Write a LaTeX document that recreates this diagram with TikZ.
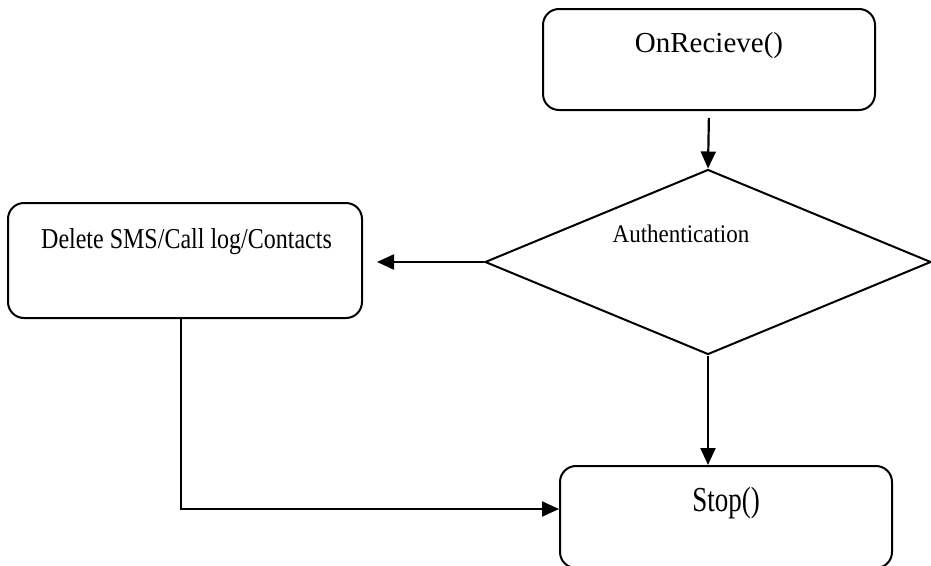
\documentclass[tikz,border=0pt]{standalone}
\usepackage{fontspec}
\setmainfont{Liberation Serif}
\usetikzlibrary{arrows.meta,shapes.geometric}
\begin{document}
\begin{tikzpicture}[x=1pt,y=-1pt,
  box/.style={draw,line width=2pt,rounded corners=16pt,inner sep=0pt},
  decision/.style={draw,line width=2pt,diamond,inner sep=0pt,aspect=2.4},
  conn/.style={line width=2.2pt,-{Triangle[length=17pt,width=15pt]}},
  lbl/.style={inner sep=0pt,anchor=base}]
\useasboundingbox (0,0) rectangle (931,565);
% shapes
\node[box,minimum width=332pt,minimum height=101pt] (recv) at (709,59.5) {};
\node[decision,minimum width=446pt,minimum height=185pt] (auth) at (708,262) {};
\node[box,minimum width=354pt,minimum height=115pt] (del) at (185,260.5) {};
\node[box,minimum width=332pt,minimum height=102pt] (stop) at (726,517) {};
% texts
\node[lbl,font=\fontsize{29}{29}\selectfont] (recvtxt) at (709,52) {OnRecieve()};
\node[lbl,font=\fontsize{24}{24}\selectfont] (deltxt) at (186.5,248) {\scalebox{1}[1.2]{Delete SMS/Call log/Contacts}};
\node[lbl,font=\fontsize{23}{23}\selectfont] (authtxt) at (681,242) {\scalebox{1}[1.1]{Authentication}};
\node[lbl,font=\fontsize{27}{27}\selectfont] (stoptxt) at (726,511) {\scalebox{1}[1.3]{Stop()}};
% connectors
\draw[conn,shorten <=7pt] (recv.south) -- (auth.north);
\draw[conn,shorten >=14pt] (auth.west) -- (auth.west -| del.east);
\draw[conn] (auth.south) -- (auth.south |- stop.north);
\draw[conn] ([xshift=-4pt]del.south) |- ([yshift=8pt]stop.west);
\end{tikzpicture}
\end{document}
